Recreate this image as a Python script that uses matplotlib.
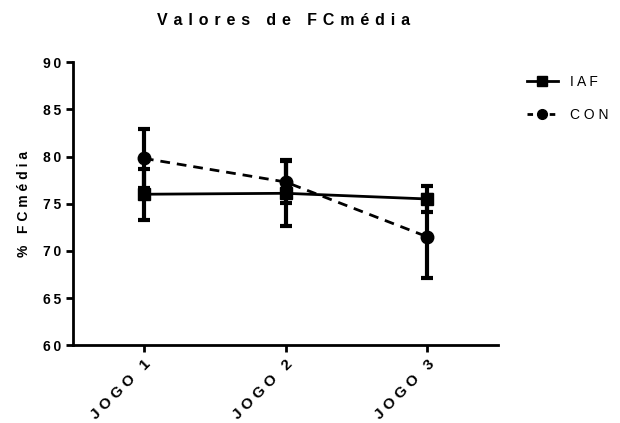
import matplotlib
matplotlib.use("Agg")
import matplotlib.pyplot as plt
from matplotlib.lines import Line2D
import numpy as np

plt.rcParams['font.family'] = ['Liberation Sans', 'DejaVu Sans']

jogos = ["JOGO 1", "JOGO 2", "JOGO 3"]
iaf_mean = [76.0, 76.1, 75.5]
iaf_err = [2.7, 3.5, 1.4]
con_mean = [79.8, 77.3, 71.5]
con_err = [3.1, 2.2, 4.4]
yticks = [60, 65, 70, 75, 80, 85, 90]


def spaced(s, sep=" "):
    # stretch letters like the original (Prism style letter spacing)
    return sep.join(s)


x = np.arange(len(jogos))

fig = plt.figure(figsize=(6.2, 4.23), dpi=100)
ax = fig.add_axes([0.118, 0.184, 0.685, 0.669])

ax.errorbar(x, iaf_mean, yerr=iaf_err, fmt='-s', color='black', lw=2,
            elinewidth=3, capsize=4.5, capthick=3, markersize=9)
ax.errorbar(x, con_mean, yerr=con_err, fmt='--o', color='black', lw=2,
            elinewidth=3, capsize=4.5, capthick=3, markersize=9,
            dashes=(3.5, 2.5))

ax.set_xlim(-0.5, 2.5)
ax.set_ylim(60, 90)
ax.set_yticks(yticks)
ax.set_yticklabels([spaced(str(v), "\u2009") for v in yticks], fontweight='bold', fontsize=10)
ax.set_xticks(x)
ax.set_xticklabels([spaced(j) for j in jogos], rotation=45, ha='right',
                   rotation_mode='anchor', fontweight='bold', fontsize=11)

for side in ['top', 'right']:
    ax.spines[side].set_visible(False)
for side in ['left', 'bottom']:
    ax.spines[side].set_linewidth(2)
ax.tick_params(width=2, length=5, direction='out')

ax.set_ylabel(spaced('% FCmédia'), fontweight='bold', fontsize=10, labelpad=9)
fig.text(0.458, 0.952, spaced('Valores de FCmédia', " \u200a"), fontweight='bold',
         fontsize=11.5, ha='center', va='center')

handles = [
    Line2D([], [], color='black', lw=2, marker='s', markersize=7),
    Line2D([], [], color='black', lw=2, marker='o', markersize=7, ls='--', dashes=(2, 2)),
]
fig.legend(handles, [spaced('IAF'), spaced('CON')], loc='upper left',
           bbox_to_anchor=(0.85, 0.823), frameon=False, fontsize=10,
           borderpad=0, borderaxespad=0, handlelength=2.2,
           handletextpad=0.9, labelspacing=1.35)

fig.savefig("out.png", dpi=100)
